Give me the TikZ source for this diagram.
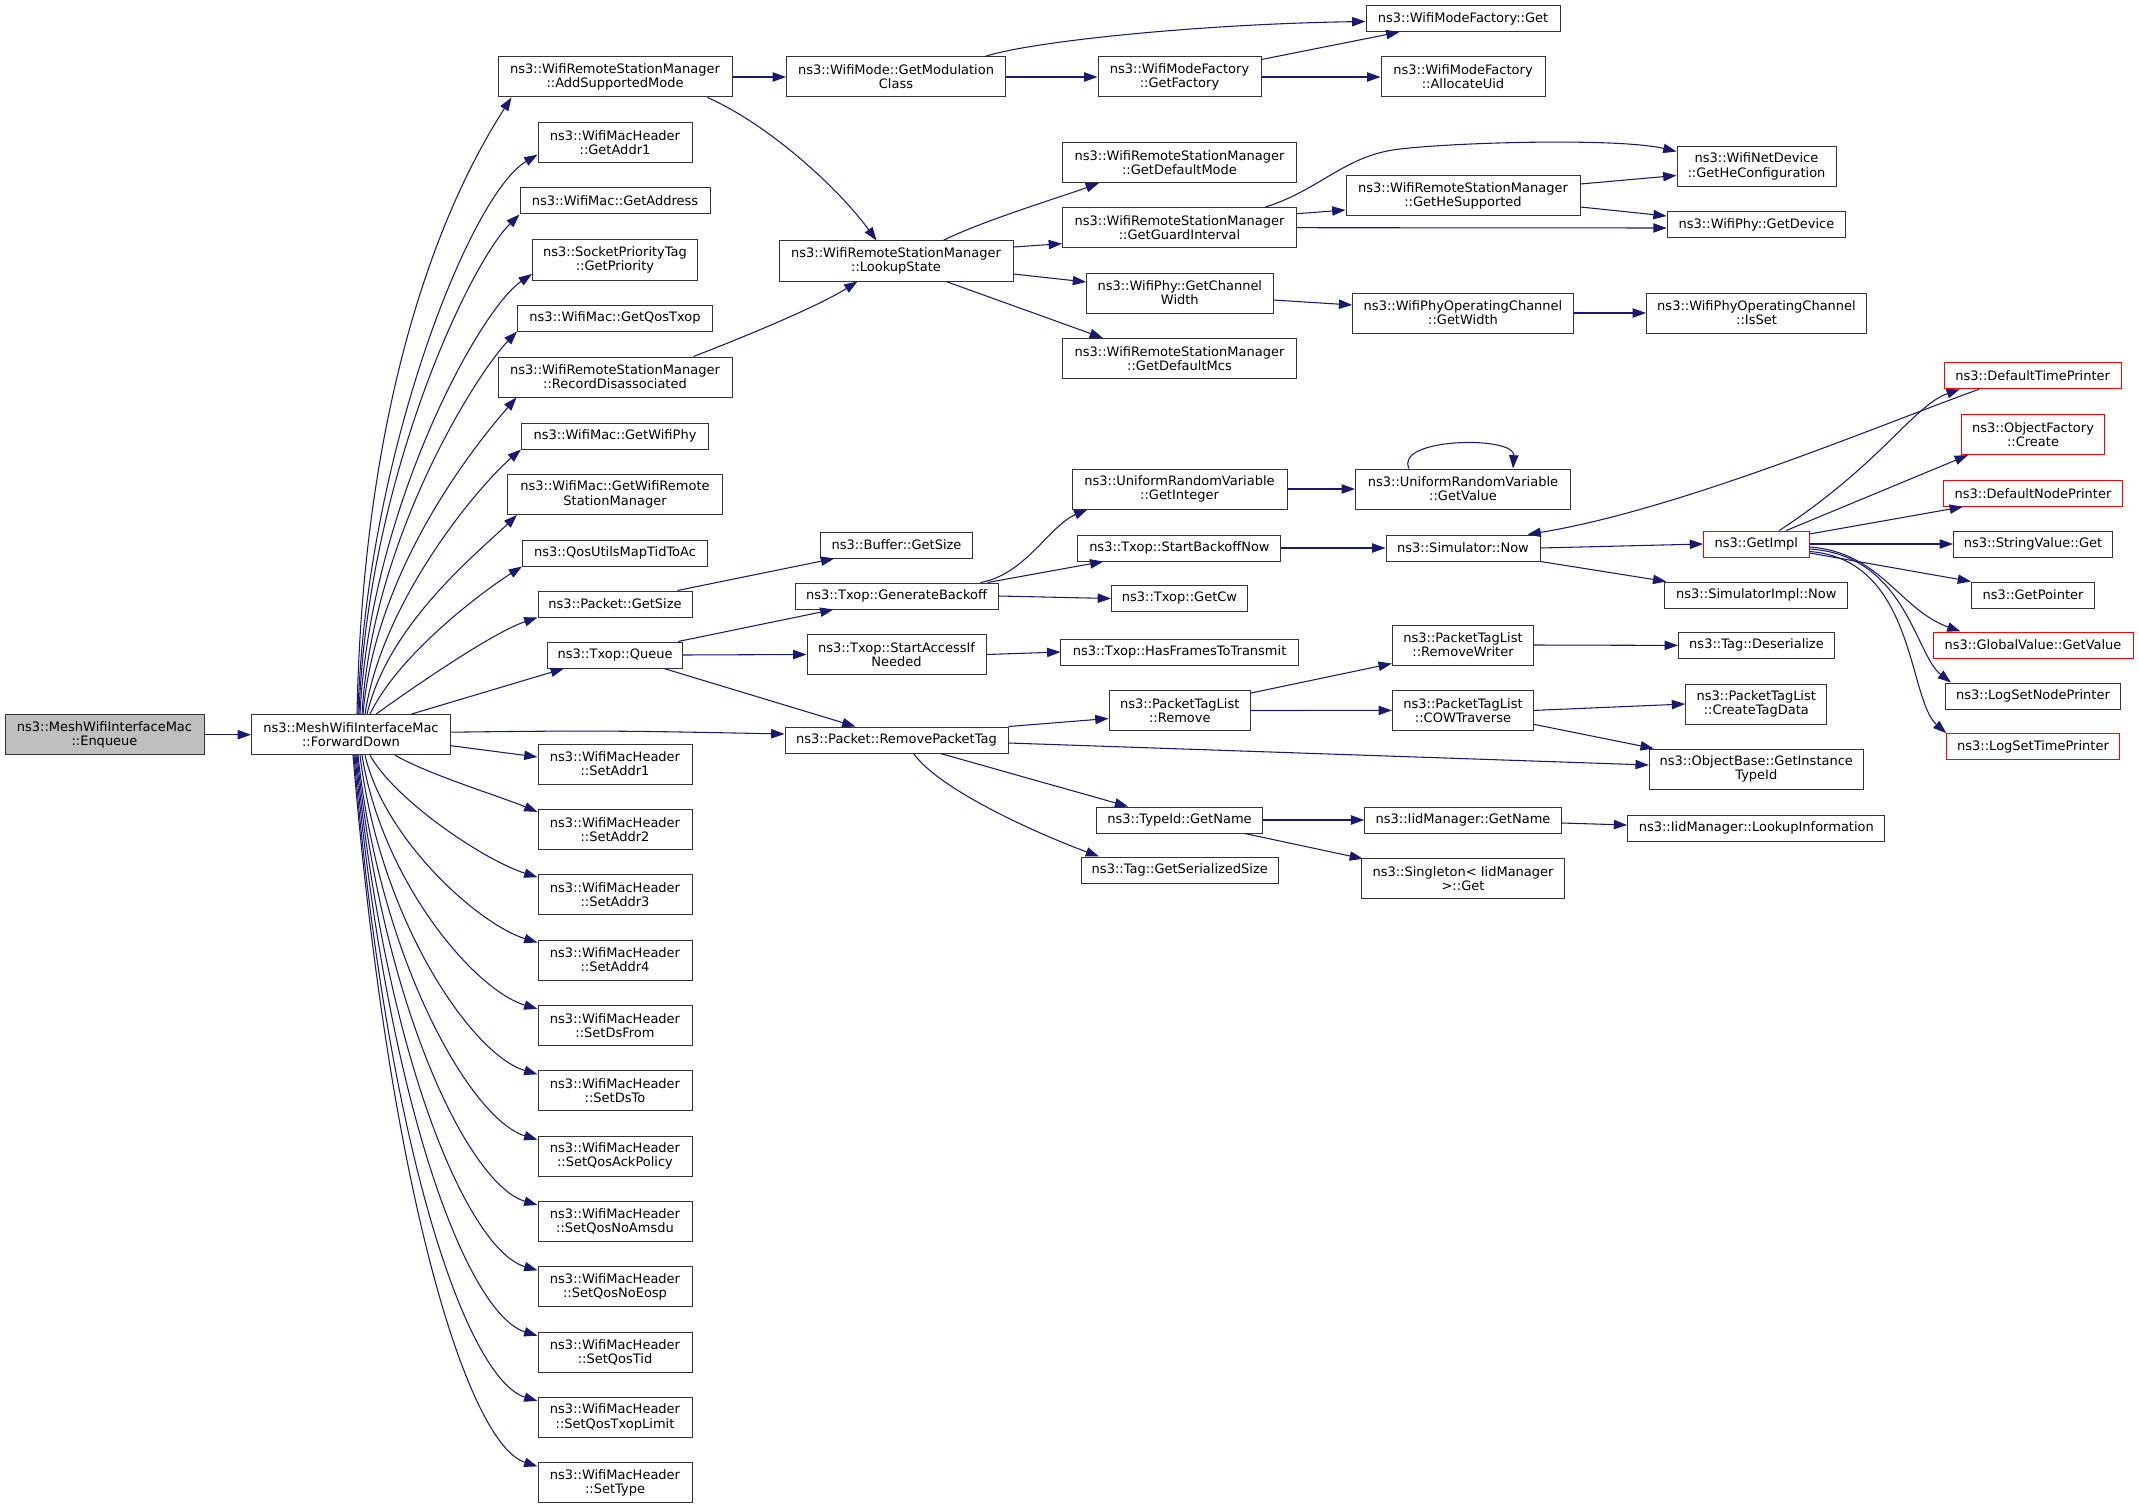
\documentclass[tikz,border=0pt]{standalone}
\usepackage{fontspec}
\setmainfont{DejaVu Sans}
\usetikzlibrary{arrows.meta, calc}
\definecolor{edgeblue}{HTML}{191970}

\begin{document}
\begin{tikzpicture}[x=0.75pt, y=-0.75pt,
    fn/.style={draw=black!80, line width=0.75pt, fill=white, inner sep=1pt, minimum height=19.5pt, align=center, font=\fontsize{9.75}{10.7}\selectfont},
    fn2/.style={fn, minimum height=30pt},
    hdr/.style={fn2, minimum width=115.5pt},
    hot/.style={draw=red},
    root/.style={fill=black!25},
    call/.style={draw=edgeblue, line width=0.8pt, -{Triangle[length=10pt, width=7pt]}}]
        \useasboundingbox (0,0) rectangle (2139,1509);

        \node[fn2, root, minimum width=149.25pt] (enq) at (104.5,734.7) {ns3::MeshWifiInterfaceMac\\::Enqueue};
        \node[fn2, minimum width=149.25pt] (fwd) at (351,734.7) {ns3::MeshWifiInterfaceMac\\::ForwardDown};

        \node[fn2, minimum width=175.5pt] (addMode) at (615,77) {ns3::WifiRemoteStationManager\\::AddSupportedMode};
        \node[fn2, minimum width=115.5pt] (getAddr1) at (615,142.7) {ns3::WifiMacHeader\\::GetAddr1};
        \node[fn, minimum width=142.5pt] (getAddress) at (615,201) {ns3::WifiMac::GetAddress};
        \node[fn2, minimum width=123.75pt] (getPrio) at (615,260) {ns3::SocketPriorityTag\\::GetPriority};
        \node[fn, minimum width=146.25pt] (getQosTxop) at (615,318) {ns3::WifiMac::GetQosTxop};
        \node[fn2, minimum width=175.5pt] (recDis) at (615,377) {ns3::WifiRemoteStationManager\\::RecordDisassociated};
        \node[fn, minimum width=140.25pt] (getPhy) at (615,436) {ns3::WifiMac::GetWifiPhy};
        \node[fn2, minimum width=161.25pt] (getRsm) at (615,494.5) {ns3::WifiMac::GetWifiRemote\\StationManager};
        \node[fn, minimum width=138.75pt] (qosMap) at (615,553) {ns3::QosUtilsMapTidToAc};
        \node[fn, minimum width=115.5pt] (pktSize) at (615,604) {ns3::Packet::GetSize};
        \node[fn, minimum width=101.25pt] (queue) at (615,655) {ns3::Txop::Queue};
        \node[hdr] (setAddr1) at (615,764) {ns3::WifiMacHeader\\::SetAddr1};
        \node[hdr] (setAddr2) at (615,829.4) {ns3::WifiMacHeader\\::SetAddr2};
        \node[hdr] (setAddr3) at (615,894.7) {ns3::WifiMacHeader\\::SetAddr3};
        \node[hdr] (setAddr4) at (615,960) {ns3::WifiMacHeader\\::SetAddr4};
        \node[hdr] (setDsFrom) at (615,1025.4) {ns3::WifiMacHeader\\::SetDsFrom};
        \node[hdr] (setDsTo) at (615,1090.8) {ns3::WifiMacHeader\\::SetDsTo};
        \node[hdr] (setQosAck) at (615,1156.1) {ns3::WifiMacHeader\\::SetQosAckPolicy};
        \node[hdr] (setQosNoAmsdu) at (615,1221.5) {ns3::WifiMacHeader\\::SetQosNoAmsdu};
        \node[hdr] (setQosNoEosp) at (615,1286.8) {ns3::WifiMacHeader\\::SetQosNoEosp};
        \node[hdr] (setQosTid) at (615,1352.2) {ns3::WifiMacHeader\\::SetQosTid};
        \node[hdr] (setQosTxopLimit) at (615,1417.5) {ns3::WifiMacHeader\\::SetQosTxopLimit};
        \node[hdr] (setType) at (615,1482.9) {ns3::WifiMacHeader\\::SetType};

        \node[fn2, minimum width=164.25pt] (modClass) at (896,77) {ns3::WifiMode::GetModulation\\Class};
        \node[fn2, minimum width=175.5pt] (lookup) at (896,261) {ns3::WifiRemoteStationManager\\::LookupState};
        \node[fn, minimum width=113.6pt] (bufSize) at (896.5,545) {ns3::Buffer::GetSize};
        \node[fn, minimum width=152.25pt] (genBackoff) at (896.5,596) {ns3::Txop::GenerateBackoff};
        \node[fn2, minimum width=134.25pt] (startAccess) at (896.5,654.5) {ns3::Txop::StartAccessIf\\Needed};
        \node[fn, minimum width=167.25pt] (rmTag) at (896.5,740) {ns3::Packet::RemovePacketTag};

        \node[fn2, minimum width=122.25pt] (getFactory) at (1179.5,77) {ns3::WifiModeFactory\\::GetFactory};
        \node[fn2, minimum width=175.5pt] (defMode) at (1179.5,162.5) {ns3::WifiRemoteStationManager\\::GetDefaultMode};
        \node[fn2, minimum width=175.5pt] (guard) at (1179.5,227.7) {ns3::WifiRemoteStationManager\\::GetGuardInterval};
        \node[fn2, minimum width=139.8pt] (chanWidth) at (1179.8,293) {ns3::WifiPhy::GetChannel\\Width};
        \node[fn2, minimum width=175.5pt] (defMcs) at (1179.5,358.5) {ns3::WifiRemoteStationManager\\::GetDefaultMcs};
        \node[fn2, minimum width=161.25pt] (getInt) at (1179.5,489) {ns3::UniformRandomVariable\\::GetInteger};
        \node[fn, minimum width=152.25pt] (startBo) at (1179.4,548) {ns3::Txop::StartBackoffNow};
        \node[fn, minimum width=102pt] (getCw) at (1179.5,598.5) {ns3::Txop::GetCw};
        \node[fn, minimum width=178pt] (hasFrames) at (1179.6,652) {ns3::Txop::HasFramesToTransmit};
        \node[fn2, minimum width=106.1pt] (ptlRemove) at (1179.8,710.5) {ns3::PacketTagList\\::Remove};
        \node[fn, minimum width=124.3pt] (typeName) at (1179.5,820) {ns3::TypeId::GetName};
        \node[fn, minimum width=148.1pt] (tagSerSize) at (1179.8,870) {ns3::Tag::GetSerializedSize};

        \node[fn, minimum width=145.5pt] (wmfGet) at (1463,18.5) {ns3::WifiModeFactory::Get};
        \node[fn2, minimum width=123pt] (allocUid) at (1463,77) {ns3::WifiModeFactory\\::AllocateUid};
        \node[fn2, minimum width=175.5pt] (heSup) at (1463,196) {ns3::WifiRemoteStationManager\\::GetHeSupported};
        \node[fn2, minimum width=165.4pt] (opWidth) at (1463,313) {ns3::WifiPhyOperatingChannel\\::GetWidth};
        \node[fn2, minimum width=161.25pt] (getValue) at (1463,489) {ns3::UniformRandomVariable\\::GetValue};
        \node[fn, minimum width=115.5pt] (simNow) at (1463,548) {ns3::Simulator::Now};
        \node[fn2, minimum width=106pt] (rmWriter) at (1463,645) {ns3::PacketTagList\\::RemoveWriter};
        \node[fn2, minimum width=106pt] (cowTrav) at (1463,710.4) {ns3::PacketTagList\\::COWTraverse};
        \node[fn, minimum width=147.3pt] (iidName) at (1463,820) {ns3::IidManager::GetName};
        \node[fn2, minimum width=152.25pt] (singleton) at (1463,878.3) {ns3::Singleton< IidManager\\>::Get};

        \node[fn2, minimum width=119.25pt] (heConfig) at (1756.5,166.5) {ns3::WifiNetDevice\\::GetHeConfiguration};
        \node[fn, minimum width=134pt] (getDevice) at (1756.5,225) {ns3::WifiPhy::GetDevice};
        \node[fn2, minimum width=165pt] (isSet) at (1756.5,313) {ns3::WifiPhyOperatingChannel\\::IsSet};
        \node[fn, hot, minimum width=79.1pt] (getImpl) at (1756.3,544) {ns3::GetImpl};
        \node[fn, minimum width=137.25pt] (simImplNow) at (1756.3,595) {ns3::SimulatorImpl::Now};
        \node[fn, minimum width=117pt] (tagDeser) at (1756.5,645.4) {ns3::Tag::Deserialize};
        \node[fn2, minimum width=106pt] (createTag) at (1756.3,704) {ns3::PacketTagList\\::CreateTagData};
        \node[fn2, minimum width=160.5pt] (instTypeId) at (1756.3,769) {ns3::ObjectBase::GetInstance\\TypeId};
        \node[fn, minimum width=193pt] (lookupInfo) at (1756.3,828) {ns3::IidManager::LookupInformation};

        \node[fn, hot, minimum width=132.5pt] (defTime) at (2032.7,375.8) {ns3::DefaultTimePrinter};
        \node[fn2, hot, minimum width=107.25pt] (objCreate) at (2033,434.6) {ns3::ObjectFactory\\::Create};
        \node[fn, hot, minimum width=134.25pt] (defNode) at (2033,493.3) {ns3::DefaultNodePrinter};
        \node[fn, minimum width=119.25pt] (strGet) at (2033,544) {ns3::StringValue::Get};
        \node[fn, minimum width=92.25pt] (getPtr) at (2033,595) {ns3::GetPointer};
        \node[fn, hot, minimum width=150pt] (globalVal) at (2033,645) {ns3::GlobalValue::GetValue};
        \node[fn, minimum width=131.25pt] (logNode) at (2033,696) {ns3::LogSetNodePrinter};
        \node[fn, hot, minimum width=129.3pt] (logTime) at (2033,746.7) {ns3::LogSetTimePrinter};

        \draw[call] (enq.east) -- (fwd.west);
        \draw[call] ($(fwd.north)+(6,0)$) .. controls +(5,-264) and +(-92,143) .. ($(addMode.south west)+(14,0)$);
        \draw[call] ($(fwd.north)+(7,0)$) .. controls +(7,-254) and +(-68,40) .. ($(getAddr1.west)+(0,12)$);
        \draw[call] ($(fwd.north)+(8,0)$) .. controls +(8,-234) and +(-50,49) .. (getAddress.south west);
        \draw[call] ($(fwd.north)+(9,0)$) .. controls +(10,-204) and +(-53,36) .. ($(getPrio.west)+(0,14)$);
        \draw[call] ($(fwd.north)+(11,0)$) .. controls +(10,-174) and +(-42,44) .. (getQosTxop.south west);
        \draw[call] ($(fwd.north)+(12,0)$) .. controls +(12,-144) and +(-42,48) .. ($(recDis.south west)+(19,0)$);
        \draw[call] ($(fwd.north)+(14,0)$) .. controls +(17,-114) and +(-42,36) .. (getPhy.south west);
        \draw[call] ($(fwd.north)+(16,0)$) .. controls +(21,-89) and +(-42,40) .. ($(getRsm.south west)+(10,0)$);
        \draw[call] ($(fwd.north)+(19,0)$) .. controls +(28,-59) and +(-41,26) .. (qosMap.south west);
        \draw[call] ($(fwd.north)+(25,0)$) .. controls +(19,-14) and +(-48,16) .. (pktSize.south west);
        \draw[call] ($(fwd.north)+(60,0)$) -- ($(queue.south west)+(17,0)$);
        \draw[call] ($(fwd.east)+(0,-2.5)$) .. controls +(150,-2) and +(-150,-3) .. ($(rmTag.west)+(0,-6)$);
        \draw[call] ($(fwd.east)+(0,11)$) -- ($(setAddr1.west)+(0,-7)$);
        \draw[call] ($(fwd.south)+(44,0)$) .. controls +(35,20) and +(-38.6,-16) .. ($(setAddr2.north west)+(0,3)$);
        \draw[call] ($(fwd.south)+(19,0)$) .. controls +(25,45) and +(-53.6,-17) .. ($(setAddr3.north west)+(0,3)$);
        \draw[call] ($(fwd.south)+(14,0)$) .. controls +(20,85) and +(-58.6,-18) .. ($(setAddr4.north west)+(0,3)$);
        \draw[call] ($(fwd.south)+(11,0)$) .. controls +(20,125) and +(-63.6,-19) .. ($(setDsFrom.north west)+(0,4)$);
        \draw[call] ($(fwd.south)+(9,0)$) .. controls +(20,165) and +(-65.6,-19.5) .. ($(setDsTo.north west)+(0,4)$);
        \draw[call] ($(fwd.south)+(7,0)$) .. controls +(22,205) and +(-66.6,-20) .. ($(setQosAck.north west)+(0,4)$);
        \draw[call] ($(fwd.south)+(6,0)$) .. controls +(26,255) and +(-67.6,-20) .. ($(setQosNoAmsdu.north west)+(0,4)$);
        \draw[call] ($(fwd.south)+(5,0)$) .. controls +(29,305) and +(-68.6,-20) .. ($(setQosNoEosp.north west)+(0,4)$);
        \draw[call] ($(fwd.south)+(4,0)$) .. controls +(32,355) and +(-68.6,-21) .. ($(setQosTid.north west)+(0,4)$);
        \draw[call] ($(fwd.south)+(3,0)$) .. controls +(34,405) and +(-68.6,-21) .. ($(setQosTxopLimit.north west)+(0,4)$);
        \draw[call] ($(fwd.south)+(2,0)$) .. controls +(37,445) and +(-68.6,-22) .. ($(setType.north west)+(0,4)$);

        \draw[call] (addMode.east) -- (modClass.west);
        \draw[call] ($(addMode.south east)+(-25,0)$) .. controls +(63,28) and +(-37,-51) .. ($(lookup.north west)+(98,0)$);
        \draw[call] ($(recDis.north east)+(-39,0)$) .. controls +(57,-22) and +(-38,24) .. ($(lookup.south west)+(79,0)$);
        \draw[call] ($(modClass.north east)+(-21,0)$) .. controls +(45,-15) and +(-166,2.5) .. ($(wmfGet.west)+(0,3)$);
        \draw[call] (modClass.east) -- (getFactory.west);
        \draw[call] ($(getFactory.north east)+(0,3)$) -- ($(wmfGet.south west)+(34,0)$);
        \draw[call] (getFactory.east) -- (allocUid.west);
        \draw[call] ($(lookup.north)+(47,0)$) .. controls +(40,-20) and +(-35,13) .. ($(defMode.south west)+(37,0)$);
        \draw[call] ($(lookup.east)+(0,-14)$) -- ($(guard.west)+(0,16)$);
        \draw[call] ($(lookup.east)+(0,13)$) -- ($(chanWidth.west)+(0,-11)$);
        \draw[call] ($(lookup.south)+(50,0)$) -- ($(defMcs.north west)+(41,0)$);
        \draw[call] ($(guard.north east)+(-32,0)$) .. controls (1320,190) and (1345,155) .. (1400,149) .. controls (1460,142) and (1620,138) .. ($(heConfig.west)+(0,-15)$);
        \draw[call] ($(guard.east)+(0,-14)$) -- ($(heSup.west)+(0,14)$);
        \draw[call] (guard.east) -- ($(getDevice.west)+(0,3)$);
        \draw[call] ($(heSup.east)+(0,-12)$) -- ($(heConfig.west)+(0,9)$);
        \draw[call] ($(heSup.east)+(0,11)$) -- ($(getDevice.west)+(0,-9)$);
        \draw[call] ($(chanWidth.east)+(0,7)$) -- ($(opWidth.west)+(0,-8)$);
        \draw[call] (opWidth.east) -- (isSet.west);

        \draw[call] ($(pktSize.north east)+(-15,0)$) -- ($(bufSize.south west)+(14,0)$);
        \draw[call] ($(queue.north east)+(-5,0)$) -- ($(genBackoff.south west)+(39,0)$);
        \draw[call] (queue.east) -- (startAccess.west);
        \draw[call] ($(queue.south east)+(-19,0)$) -- ($(rmTag.north west)+(71,0)$);
        \draw[call] ($(genBackoff.north east)+(-18,0)$) .. controls +(45,-8) and +(-38,16) .. ($(getInt.south west)+(16,0)$);
        \draw[call] ($(genBackoff.north east)+(-11,0)$) -- ($(startBo.south west)+(26,0)$);
        \draw[call] (genBackoff.east) -- (getCw.west);
        \draw[call] (getInt.east) -- (getValue.west);
        \draw[call] ($(getValue.north west)+(54,0)$) .. controls +(-15,-31) and +(2,-33) .. ($(getValue.north)+(50,0)$);
        \draw[call] (startBo.east) -- (simNow.west);
        \draw[call] ($(defTime.south west)+(35,0)$) .. controls +(-100,36) and +(153,-25) .. ($(simNow.north east)+(-13,0)$);
        \draw[call] (simNow.east) -- (getImpl.west);
        \draw[call] (simNow.south east) -- ($(simImplNow.north west)+(2,0)$);
        \draw[call] ($(getImpl.north)+(23,0)$) .. controls +(101,-66) and +(-46,16) .. ($(defTime.south west)+(16,0)$);
        \draw[call] ($(getImpl.north)+(30,0)$) -- ($(objCreate.south west)+(7,0)$);
        \draw[call] ($(getImpl.east)+(0,-10)$) -- ($(defNode.south west)+(20,0)$);
        \draw[call] (getImpl.east) -- (strGet.west);
        \draw[call] ($(getImpl.east)+(0,9)$) -- (getPtr.north west);
        \draw[call] ($(getImpl.east)+(0,3)$) .. controls +(71,5) and +(-61,-22) .. ($(globalVal.north west)+(28,0)$);
        \draw[call] ($(getImpl.east)+(0,5)$) .. controls +(96,6) and +(-36,-28) .. ($(logNode.north west)+(6,0)$);
        \draw[call] ($(getImpl.east)+(0,7.5)$) .. controls +(106,8) and +(-38.6,-34) .. (logTime.north west);
        \draw[call] (startAccess.east) -- (hasFrames.west);

        \draw[call] (rmTag.north east) -- ($(ptlRemove.west)+(0,8)$);
        \draw[call] ($(rmTag.east)+(0,3)$) -- ($(instTypeId.west)+(0,-4)$);
        \draw[call] ($(rmTag.south)+(44,0)$) -- ($(typeName.north west)+(32,0)$);
        \draw[call] ($(rmTag.south)+(17,0)$) .. controls +(26.5,37) and +(-59.5,-22) .. ($(tagSerSize.north west)+(18.5,0)$);
        \draw[call] ($(ptlRemove.north east)+(0,3)$) -- ($(rmWriter.south west)+(0,-2)$);
        \draw[call] (ptlRemove.east) -- (cowTrav.west);
        \draw[call] (rmWriter.east) -- (tagDeser.west);
        \draw[call] (cowTrav.east) -- (createTag.west);
        \draw[call] ($(cowTrav.east)+(0,14)$) -- ($(instTypeId.north west)+(5,0)$);
        \draw[call] (typeName.east) -- (iidName.west);
        \draw[call] ($(typeName.south east)+(-18,0)$) -- ($(singleton.north west)+(2,1)$);
        \draw[call] ($(iidName.east)+(0,3)$) -- ($(lookupInfo.west)+(0,-3)$);
      \end{tikzpicture}
\end{document}
